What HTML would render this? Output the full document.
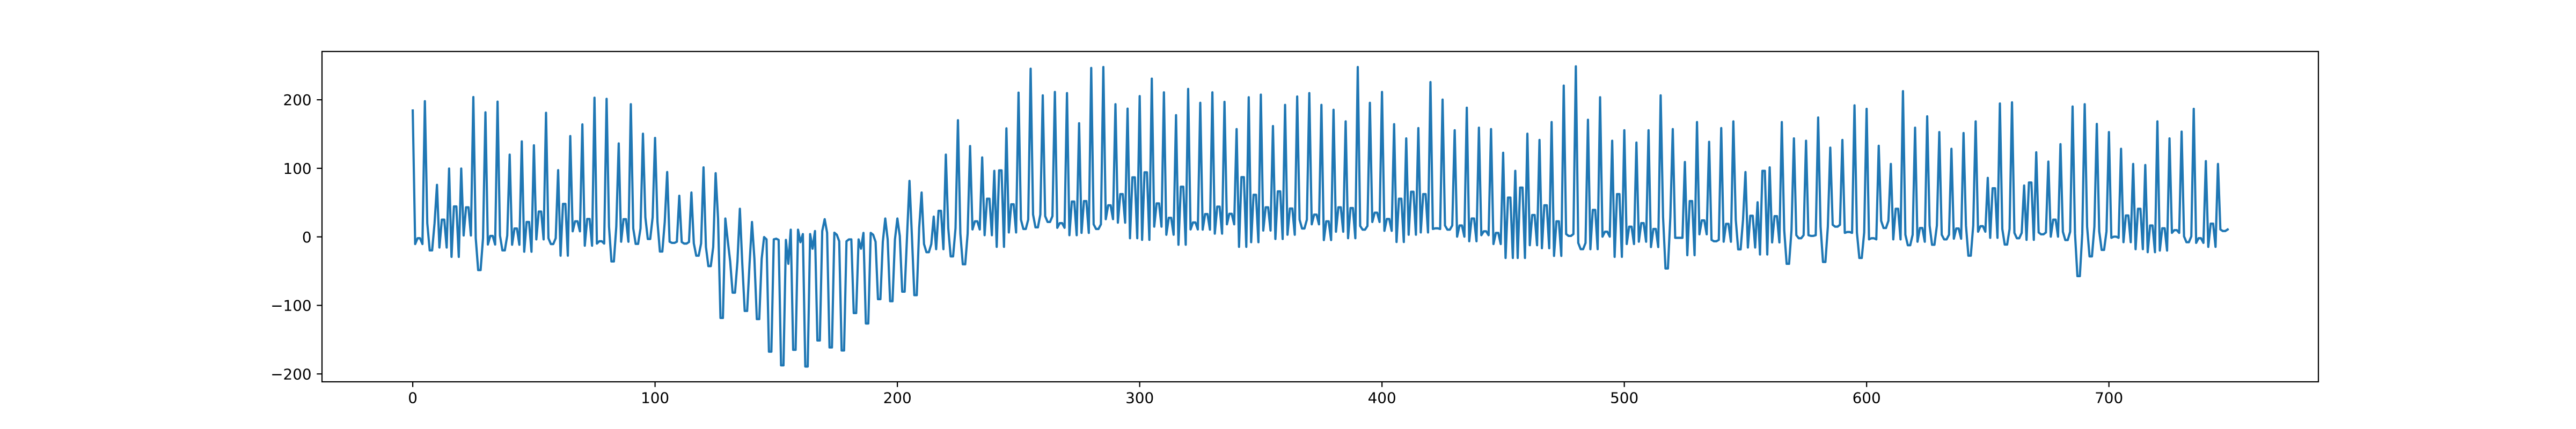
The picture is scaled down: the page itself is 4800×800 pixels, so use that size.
<!DOCTYPE html>
<html>
<head>
<meta charset="utf-8">
<title>Time series line chart</title>
<style>
html,body{margin:0;padding:0;background:#fff;}
svg{display:block;}
text{font-family:"DejaVu Sans",sans-serif;font-size:27.8px;fill:#000;}
</style>
</head>
<body>
<svg id="chart" xmlns="http://www.w3.org/2000/svg" width="4800" height="800" viewBox="0 0 4800 800">
<rect x="0" y="0" width="4800" height="800" fill="#ffffff"/>
<g id="xticks"></g>
<g id="yticks"></g>
<polyline id="series" fill="none" stroke="#1f77b4" stroke-width="4.17" stroke-linejoin="round" stroke-linecap="square"/>
<rect x="600" y="96" width="3720" height="616" fill="none" stroke="#000" stroke-width="2.2"/>
</svg>
<script>
const xTickValues = [0, 100, 200, 300, 400, 500, 600, 700];
const yTickValues = [-200, -100, 0, 100, 200];
const seriesValues = [
184.4,-10.5,-2,-2,-10.5, 198,20,-19.7,-19.7,20, 75.9,-15.6,25.1,25.1,-15.6, 99.7,-29.2,44.4,44.4,-29.2, 99.7,2,43.1,43.1,2,
204,-2,-48.5,-48.5,-2, 181.7,-11.2,1.4,1.4,-11.2, 197.3,2,-19.7,-19.7,2, 120,-11.5,12.2,12.2,-11.5, 139.3,-21.7,21.7,21.7,-21.7,
133.6,-3.7,37,37,-3.7, 181,-2,-10.5,-10.5,-2, 97.3,-27.5,48.1,48.1,-27.5, 147.1,8.1,22.7,22.7,8.1, 164.1,-12.9,26.1,26.1,-12.9,
203,-9.8,-6.4,-6.4,-9.8, 201.4,14.9,-35.9,-35.9,14.9, 136.3,-7.1,25.8,25.8,-7.1, 193.6,12.2,-10.2,-10.2,12.2, 150.5,28.5,-3.1,-3.1,28.5,
144.4,21.7,-21.4,-21.4,21.7, 94.6,-7.1,-8.8,-8.8,-7.1, 60,-7.5,-9.8,-9.8,-7.5, 64.7,-9.5,-27.5,-27.5,-9.5, 101.4,-14.9,-42.7,-42.7,-14.9,
92.9,26.8,-118.3,-118.3,26.8, -5.4,-35.9,-81.4,-81.4,-35.9, 41,-39.3,-108.1,-108.1,-39.3, 21.7,-31.9,-120,-120,-31.9, -0.3,-3.7,-167.5,-167.5,-3.7,
-2.7,-4.4,-187.5,-187.5,-4.4, -39.3,10.5,-164.8,-164.8,10.5, -7.8,4.1,-189.2,-189.2,4.1, -17.3,8.5,-151.2,-151.2,8.5, 25.8,6.1,-161.4,-161.4,6.1,
3.1,-6.4,-165.8,-165.8,-6.4, -3.7,-3.7,-111.2,-111.2,-3.7, -17.3,5.8,-126.4,-126.4,5.8, 3.1,-7.1,-90.9,-90.9,-7.1, 26.8,-3.7,-93.9,-93.9,-3.7,
26.8,1.4,-80,-80,1.4, 81.7,1.4,-85.1,-85.1,13.2, 64.7,-10.5,-22.4,-22.4,-10.5, 29.5,-18,38,38,-18, 120,12.5,-28.5,-28.5,12.5,
170.2,4.7,-40,-40,4.7, 132.5,10.8,22.7,22.7,10.8, 115.9,2.4,55.6,55.6,2.4, 96.3,-14.6,97,97,-14.6, 158.3,6.4,47.5,47.5,6.4,
210.5,25.1,11.5,11.5,25.1, 245.4,32.5,13.9,13.9,32.5, 206.5,30.2,21.7,21.7,30.2, 211.5,13.2,20,20,13.2, 209.8,2.4,51.5,51.5,2.4,
165.8,5.8,52.2,52.2,5.8, 246.5,18.3,11.5,11.5,18.3, 247.8,25.8,46.1,46.1,25.8, 193.6,20.7,62.4,62.4,20.7, 187.1,-2,86.8,86.8,-2,
205.4,-4.4,94.2,94.2,-4.4, 230.9,14.9,48.8,48.8,14.9, 210.9,3.1,27.8,27.8,3.1, 177.6,-11.5,73.2,73.2,-11.5, 215.9,10.8,21,21,10.8,
195.6,10.5,33.2,33.2,10.5, 210.9,4.7,44.1,44.1,4.7, 197,18.3,33.6,33.6,18.3, 157.3,-14.6,87.1,87.1,-14.6, 203.7,-7.8,61.4,61.4,-7.8,
207.5,9.2,43.1,43.1,9.2, 161.7,-3.1,66.4,66.4,-3.1, 192.6,3.1,41.4,41.4,3.1, 204.8,25.1,12.2,12.2,25.1, 209.8,18.3,32.5,32.5,18.3,
192.6,-4.7,22.7,22.7,-4.7, 185.4,7.5,43.1,43.1,7.5, 168.5,-2,42,42,-2, 247.8,15.9,10.5,10.5,15.9, 195.6,21.7,35.3,35.3,21.7,
211.5,8.8,26.1,26.1,8.8, 164.4,-7.5,55.6,55.6,-7.5, 143.7,3.1,65.8,65.8,3.1, 158.7,6.4,62.4,62.4,6.4, 225.8,11.5,12.5,12.5,11.5,
200.3,16.6,10.5,10.5,16.6, 155.6,0.3,16.6,16.6,0.3, 188.5,-6.4,26.8,26.8,-6.4, 159.3,2.4,8.1,8.1,2.4, 157.3,-10.5,5.8,5.8,-10.5,
122.7,-30.8,57.3,57.3,-30.8, 96.3,-30.8,71.9,71.9,-30.8, 150.5,-12.2,31.9,31.9,-12.2, 141.4,-16.6,46.1,46.1,-16.6, 167.5,-27.8,22.7,22.7,-27.8,
220.7,4.1,1.4,1.4,4.1, 248.8,-8.8,-18,-18,-8.8, 170.9,-18,39.3,39.3,-18, 203.7,0.3,7.5,7.5,0.3, 140.3,-29.2,62.4,62.4,-29.2,
155.6,-10.5,14.9,14.9,-10.5, 137.6,-7.1,20,20,-7.1, 155.6,-14.9,11.5,11.5,-14.9, 206.5,28.5,-46.1,-46.1,28.5, 157.3,-1.4,-1.4,-1.4,-1.4,
109.2,-26.8,52.2,52.2,-26.8, 167.5,3.7,24.1,24.1,3.7, 138.7,-4.4,-6.4,-6.4,-4.4, 158.7,-7.1,19,19,-7.1, 168.5,25.1,-18.3,-18.3,25.1,
94.6,-15.6,30.8,30.8,-15.6, 50.5,-25.8,96.3,96.3,-25.8, 101.4,-8.1,30.2,30.2,-8.1, 167.5,9.8,-39.3,-39.3,9.8, 143.7,2.4,-2,-2,2.4,
140.3,2.4,1.4,1.4,2.4, 174.2,14.9,-36.6,-36.6,14.9, 130.2,17.6,14.9,14.9,17.6, 141.4,5.8,7.1,7.1,5.8, 191.9,6.4,-30.8,-30.8,6.4,
186.8,-3.7,-2,-2,-3.7, 132.9,23.4,12.9,12.9,23.4, 106.4,-3.7,41,41,-3.7, 212.6,3.1,-12.2,-12.2,3.1, 159.3,-7.1,12.9,12.9,-7.1,
175.9,16.6,-11.5,-11.5,16.6, 152.9,3.1,-3.7,-3.7,3.1, 128.5,-2.7,12.2,12.2,-2.7, 151.5,16.6,-27.5,-27.5,16.6, 168.5,7.5,15.6,15.6,7.5,
86.1,-1.4,70.9,70.9,-1.4, 194.6,11.5,-11.2,-11.2,11.5, 196.3,5.8,-2,-2,5.8, 74.9,-4.4,79.3,79.3,-4.4, 123.4,6.4,3.7,3.7,6.4,
109.8,0.3,25.1,25.1,0.3, 135.3,7.5,-4.7,-4.7,7.5, 190.2,4.7,-57.3,-57.3,4.7, 193.6,14.9,-28.5,-28.5,14.9, 164.8,8.1,-19,-19,8.1,
152.9,-1.4,0.3,0.3,-1.4, 128.5,-7.8,31.2,31.2,-7.8, 106.4,-18,41,41,-18, 104.8,-22.4,16.6,16.6,-22.4, 168.5,-20,12.5,12.5,-20,
143.7,5.8,9.8,9.8,5.8, 153.6,0.7,-7.8,-7.8,0.7, 186.8,-8.8,-2,-2,-8.8, 110.5,-14.6,19.3,19.3,-14.6, 106.4,10.8,8.5,8.5,10.8
];

const plotLeft = 600, plotRight = 4320, plotTop = 96, plotBottom = 712;
const xDomainMin = -37.45, xDomainMax = 786.45;
const yDomainMin = -211.5, yDomainMax = 270.5;
function xScale(v) { return plotLeft + (v - xDomainMin) / (xDomainMax - xDomainMin) * (plotRight - plotLeft); }
function yScale(v) { return plotBottom - (v - yDomainMin) / (yDomainMax - yDomainMin) * (plotBottom - plotTop); }
const NS = 'http://www.w3.org/2000/svg';
function formatTick(v) { return v < 0 ? '\u2212' + Math.abs(v) : String(v); }

const xGroup = document.getElementById('xticks');
xTickValues.forEach(function (v) {
  const mark = document.createElementNS(NS, 'line');
  
  
  mark.setAttribute('x1', xScale(v));
  mark.setAttribute('x2', xScale(v));
  mark.setAttribute('y1', plotBottom);
  mark.setAttribute('y2', plotBottom + 9.7);
  mark.setAttribute('stroke', '#000');
  mark.setAttribute('stroke-width', '2.2');
  xGroup.appendChild(mark);
  const label = document.createElementNS(NS, 'text');
  
  
  label.setAttribute('x', xScale(v));
  label.setAttribute('y', plotBottom + 39.7);
  label.setAttribute('text-anchor', 'middle');
  label.textContent = formatTick(v);
  xGroup.appendChild(label);
});

const yGroup = document.getElementById('yticks');
yTickValues.forEach(function (v) {
  const mark = document.createElementNS(NS, 'line');
  
  
  mark.setAttribute('x1', plotLeft - 9.7);
  mark.setAttribute('x2', plotLeft);
  mark.setAttribute('y1', yScale(v));
  mark.setAttribute('y2', yScale(v));
  mark.setAttribute('stroke', '#000');
  mark.setAttribute('stroke-width', '2.2');
  yGroup.appendChild(mark);
  const label = document.createElementNS(NS, 'text');
  
  
  label.setAttribute('x', plotLeft - 19.4);
  label.setAttribute('y', yScale(v) + 10.1);
  label.setAttribute('text-anchor', 'end');
  label.textContent = formatTick(v);
  yGroup.appendChild(label);
});

document.getElementById('series').setAttribute('points', seriesValues.map(function (v, i) {
  return xScale(i).toFixed(2) + ',' + yScale(v).toFixed(2);
}).join(' '));
</script>
</body>
</html>
